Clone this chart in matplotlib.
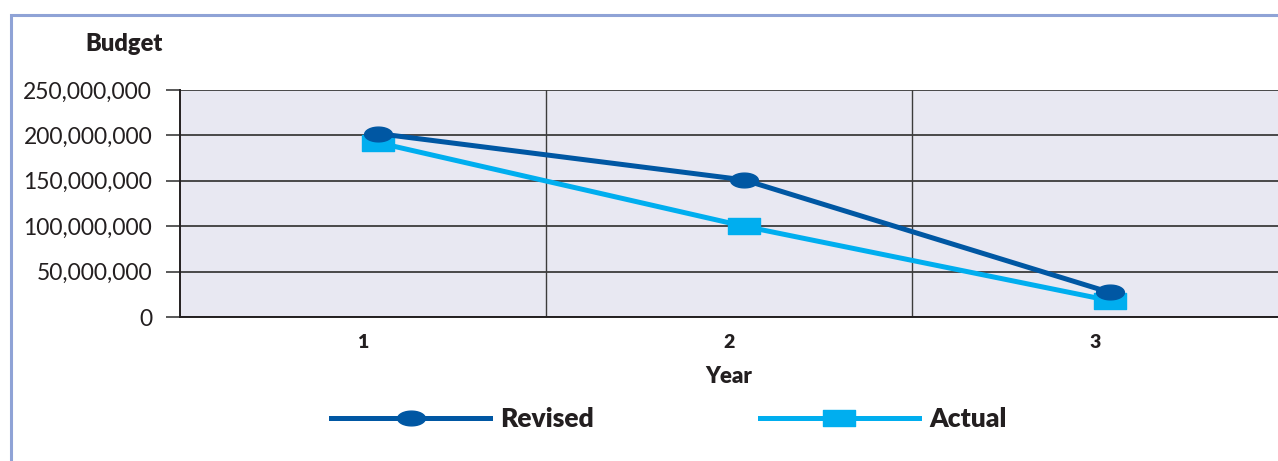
import matplotlib
matplotlib.use("Agg")
import matplotlib.pyplot as plt
import matplotlib.transforms as mtransforms
from matplotlib.path import Path
from matplotlib.patches import Rectangle
from matplotlib.ticker import FuncFormatter
import numpy as np

years = ["1", "2", "3"]
revised = [202e6, 151e6, 27e6]
actual = [192e6, 100e6, 18e6]
y_ticks = [0, 50e6, 100e6, 150e6, 200e6, 250e6]

DARK = "#0057a3"
CYAN = "#00aeef"
BG = "#e8e8f2"
GRID = "#3c3c3c"
INK = "#231f20"

plt.rcParams["font.family"] = ["Lato", "DejaVu Sans"]

W, H = 1278, 461
fig = plt.figure(figsize=(W / 100, H / 100), dpi=100)

# outer frame (only top and left edges visible)
frame = Rectangle((11 / W, -0.2), 1.2, 1 - 15 / H + 0.2, transform=fig.transFigure,
                  fill=False, edgecolor="#8fa3d6", linewidth=2.2, clip_on=False)
fig.add_artist(frame)

ax = fig.add_axes([180 / W, 1 - 317 / H, 1098 / W, 227 / H])
ax.set_facecolor(BG)

# flattened ellipse / rectangle markers
t = np.linspace(0, 2 * np.pi, 60)
ellipse = Path(np.column_stack([np.cos(t), 0.53 * np.sin(t)]), closed=True)
rect = Path([(-1, -0.47), (1, -0.47), (1, 0.47), (-1, 0.47), (-1, -0.47)], closed=True)

x = np.arange(1, len(years) + 1)
shift = ax.transData + mtransforms.ScaledTranslation(15 / 100, 0, fig.dpi_scale_trans)

ax.plot(x, actual, color=CYAN, lw=3.6, marker=rect, ms=23, mec=CYAN, mfc=CYAN,
        transform=shift, label="Actual", zorder=3)
ax.plot(x, revised, color=DARK, lw=3.6, marker=ellipse, ms=20, mec=DARK, mfc=DARK,
        transform=shift, label="Revised", zorder=4)

ax.set_xlim(0.5, 3.5)
ax.set_ylim(0, 250e6)
ax.set_yticks(y_ticks)
ax.yaxis.set_major_formatter(FuncFormatter(lambda v, p: f"{int(v):,}"))
ax.set_xticks(x)
ax.set_xticklabels(years, fontweight="heavy", fontsize=14)
ax.set_xticks([1.5, 2.5], minor=True)
ax.tick_params(axis="x", which="both", length=0, pad=12, labelcolor=INK)
ax.tick_params(axis="y", length=10, width=1.2, color=GRID, labelsize=16.5, pad=10,
               labelcolor=INK)

ax.grid(axis="y", which="major", color=GRID, lw=1.3)
ax.grid(axis="x", which="minor", color=GRID, lw=1.0)
ax.set_axisbelow(True)
for side in ["top", "right"]:
    ax.spines[side].set_visible(False)
for side in ["left", "bottom"]:
    ax.spines[side].set_color(INK)
    ax.spines[side].set_linewidth(1.4)

ax.set_xlabel("Year", fontweight="heavy", fontsize=16, labelpad=11, color=INK)
fig.text(124 / W, 1 - 44 / H, "Budget", fontweight="heavy", fontsize=17,
         ha="center", va="center", color=INK)

handles, labels = ax.get_legend_handles_labels()
leg = fig.legend(handles[::-1], labels[::-1], loc="center", ncol=2,
                 bbox_to_anchor=(669 / W, 1 - 419 / H), frameon=False,
                 prop={"weight": "heavy", "size": 19}, handlelength=6.0,
                 handletextpad=0.4, columnspacing=6.3, labelcolor=INK)

fig.savefig("out.png", dpi=100)
